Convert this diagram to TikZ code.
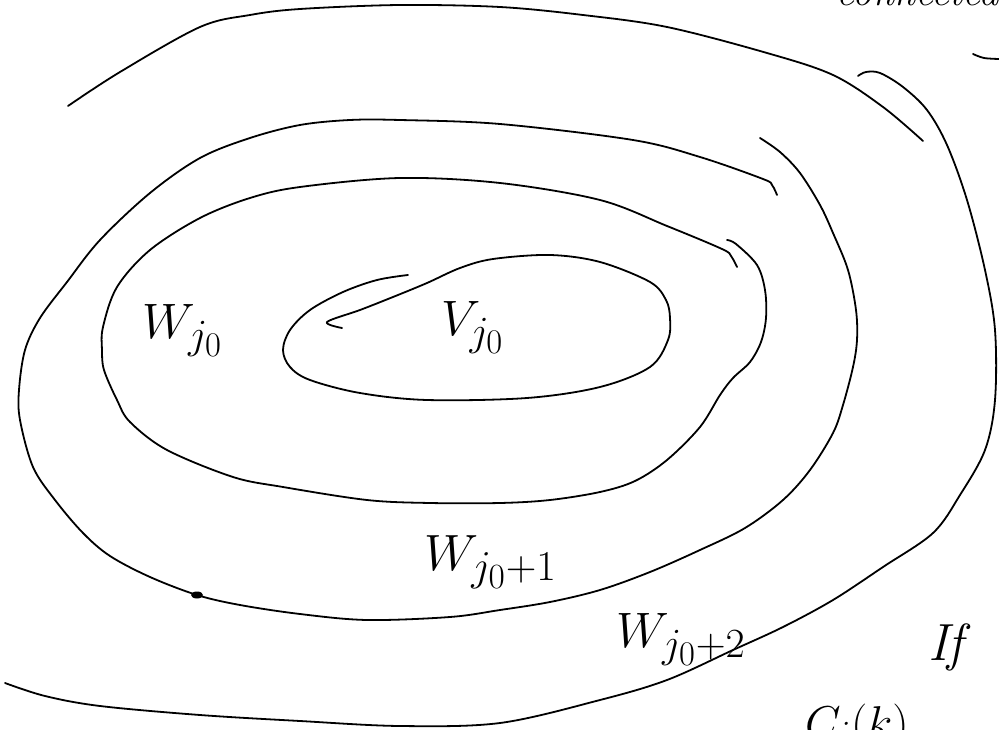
\documentclass[tikz,border=0pt]{standalone}
\usepackage{graphicx}
\newcommand{\hwtext}[2]{\scalebox{#1}{\Huge #2}}
\begin{document}
\begin{tikzpicture}[x=1pt,y=-1pt,
  pen/.style={line width=1.8pt,line cap=round,line join=round},
  lbl/.style={inner sep=0pt,anchor=base west}]
\useasboundingbox (0,0) rectangle (999,730);
\begin{scope}
\clip (0,0) rectangle (999,730);
% outermost top stroke
\draw[pen] plot[smooth,tension=0.55] coordinates {(68,106) (120,72) (200,27) (250,15) (300,9) (400,5) (500,7) (583,15) (667,27) (767,53) (833,75) (883,107) (923,141)};
% outermost right/bottom stroke
\draw[pen] plot[smooth,tension=0.55] coordinates {(858,76) (866,72) (880,73) (903,87) (927,110) (947,145) (967,200) (985,270) (995,330) (995,400) (985,450) (960,495) (933,533) (883,567) (833,600) (783,627) (733,650) (667,680) (600,700) (500,723) (400,726) (300,721) (200,715) (100,706) (45,696) (5,683)};
% second ring: right/bottom/left stroke
\draw[pen] plot[smooth,tension=0.55] coordinates {(760,138) (780,152) (800,173) (820,205) (833,233) (848,270) (856,310) (857,340) (853,367) (843,405) (833,433) (810,470) (783,500) (745,528) (700,550) (650,572) (600,590) (550,602) (500,610) (450,617) (367,620) (300,614) (240,605) (197,595) (150,577) (110,556) (83,533) (55,500) (33,467) (20,420) (19,390) (25,350) (40,318) (67,282) (100,240) (150,193) (200,158) (250,138) (300,125) (350,120) (400,120) (500,124) (633,140) (700,157) (763,179) (772,185) (777,195)};
\fill (197,595) ellipse (6 and 3.5);
% third ring
\draw[pen] plot[smooth,tension=0.55] coordinates {(727,240) (736,244) (757,265) (765,290) (766,318) (761,342) (750,362) (733,378) (720,395) (700,427) (667,460) (635,481) (600,492) (550,500) (500,503) (430,503) (367,500) (283,487) (233,477) (167,450) (130,422) (117,400) (104,370) (102,350) (103,327) (117,287) (150,250) (200,218) (250,198) (300,187) (400,178) (500,183) (600,200) (667,226) (722,249) (731,256) (737,267)};
% inner spiral
\draw[pen] plot[smooth,tension=0.55] coordinates {(408,275) (377,280) (343,292) (310,310) (290,330) (283,350) (290,367) (310,380) (360,393) (427,400) (527,398) (600,387) (650,367) (668,340) (670,318) (666,300) (650,282) (600,262) (550,255) (493,259) (460,268) (427,283) (393,297) (360,310) (327,322) (342,328)};
% small stroke top right
\draw[pen] plot[smooth,tension=0.55] coordinates {(973,54) (984,58) (999,59)};
\node[lbl] (top) at (836,6) {\hwtext{1.6}{\itshape connected}};
\node[lbl] (cik) at (805,738) {\hwtext{1.85}{$C_i(k)$}};
\end{scope}
\node[lbl] (wj0) at (142,338) {\hwtext{2}{$W_{j_0}$}};
\node[lbl] (vj0) at (441,335) {\hwtext{2}{$V_{j_0}$}};
\node[lbl] (wj1) at (424,570) {\hwtext{2.05}{$W_{j_0+1}$}};
\node[lbl] (wj2) at (616,647) {\hwtext{2}{$W_{j_0+2}$}};
\node[lbl] (if) at (928,660) {\hwtext{2.1}{\itshape If}};
\end{tikzpicture}
\end{document}
